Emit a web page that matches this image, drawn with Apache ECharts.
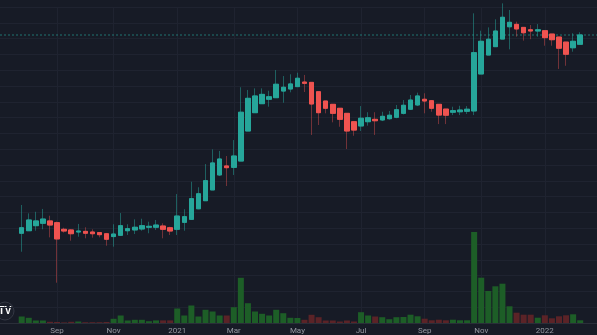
<!DOCTYPE html>
<html>
<head>
<meta charset="utf-8">
<script src="https://cdn.jsdelivr.net/npm/echarts@6/dist/echarts.min.js"></script>
<style>
html, body { margin: 0; padding: 0; background: #171b26; }
#main { width: 597px; height: 335px; }
</style>
</head>
<body>
<div id="main"></div>
<script>
// weekly bars, Monday of each week
var dates = [
    '2020-08-03','2020-08-10','2020-08-17','2020-08-24','2020-08-31','2020-09-07','2020-09-14','2020-09-21','2020-09-28','2020-10-05',
    '2020-10-12','2020-10-19','2020-10-26','2020-11-02','2020-11-09','2020-11-16','2020-11-23','2020-11-30','2020-12-07','2020-12-14',
    '2020-12-21','2020-12-28','2021-01-04','2021-01-11','2021-01-18','2021-01-25','2021-02-01','2021-02-08','2021-02-15','2021-02-22',
    '2021-03-01','2021-03-08','2021-03-15','2021-03-22','2021-03-29','2021-04-05','2021-04-12','2021-04-19','2021-04-26','2021-05-03',
    '2021-05-10','2021-05-17','2021-05-24','2021-05-31','2021-06-07','2021-06-14','2021-06-21','2021-06-28','2021-07-05','2021-07-12',
    '2021-07-19','2021-07-26','2021-08-02','2021-08-09','2021-08-16','2021-08-23','2021-08-30','2021-09-06','2021-09-13','2021-09-20',
    '2021-09-27','2021-10-04','2021-10-11','2021-10-18','2021-10-25','2021-11-01','2021-11-08','2021-11-15','2021-11-22','2021-11-29',
    '2021-12-06','2021-12-13','2021-12-20','2021-12-27','2022-01-03','2022-01-10','2022-01-17','2022-01-24','2022-01-31','2022-02-07'
];

var opens = [
    56.8, 58.4, 61.6, 63.1, 64.6, 63.5, 59.3, 58.9, 57.6, 58.0,
    57.6, 57.2, 56.5, 54.7, 55.5, 58.4, 58.9, 59.5, 60.6, 60.6,
    61.4, 60.3, 59.3, 63.7, 65.6, 72.3, 77.4, 84.2, 93.7, 99.4,
    98.5, 102.5, 121.5, 133.1, 138.8, 141.6, 142.6, 146.8, 148.1, 149.6,
    152.5, 152.3, 146.4, 140.5, 138.4, 135.9, 132.7, 127.4, 124.7, 127.4,
    128.9, 128.5, 129.3, 130.2, 132.7, 135.3, 138.0, 141.6, 140.7, 138.4,
    135.4, 133.4, 133.7, 134.0, 134.2, 157.6, 169.6, 174.9, 179.7, 187.5,
    189.0, 187.1, 185.6, 184.8, 185.0, 182.9, 181.0, 177.8, 174.2, 176.4
];

var closes = [
    60.3, 65.2, 64.6, 65.8, 62.0, 53.2, 58.2, 56.5, 58.2, 56.8,
    56.5, 55.9, 53.0, 56.3, 61.6, 59.7, 60.6, 61.6, 61.2, 62.0,
    59.3, 58.2, 67.7, 67.3, 78.7, 81.8, 90.1, 101.3, 103.8, 98.3,
    105.7, 133.4, 142.2, 143.7, 144.7, 143.2, 151.1, 149.2, 151.3, 154.9,
    151.7, 138.6, 133.1, 135.9, 132.7, 128.9, 121.5, 122.1, 129.6, 129.9,
    128.0, 130.8, 131.5, 135.0, 137.8, 141.1, 143.7, 140.5, 135.9, 131.6,
    131.5, 134.4, 134.8, 135.3, 171.1, 178.3, 179.6, 184.8, 193.5, 190.3,
    186.1, 183.7, 184.8, 185.6, 180.6, 179.3, 173.9, 170.1, 178.3, 182.3
];

var highs = [
    74.7, 69.4, 70.4, 72.2, 67.9, 64.2, 60.3, 59.3, 62.7, 60.6,
    59.3, 57.6, 57.0, 62.5, 69.6, 62.5, 65.6, 66.0, 64.1, 65.2,
    63.1, 60.9, 81.6, 72.0, 89.4, 85.9, 100.6, 109.9, 108.9, 105.7,
    115.8, 149.2, 147.5, 148.5, 148.5, 147.0, 160.1, 156.3, 157.4, 158.4,
    157.0, 152.5, 146.4, 140.5, 138.4, 135.9, 132.7, 127.4, 137.3, 133.4,
    133.4, 133.7, 134.2, 138.0, 141.1, 144.3, 145.8, 145.4, 141.1, 138.4,
    135.4, 136.9, 137.5, 137.3, 196.0, 185.0, 187.1, 192.2, 202.3, 198.1,
    190.7, 187.1, 188.6, 189.2, 185.0, 182.9, 181.0, 177.8, 183.4, 184.0
];

var lows = [
    45.1, 58.2, 58.4, 59.3, 54.2, 25.5, 57.2, 52.1, 54.6, 53.6,
    54.0, 54.2, 48.9, 48.3, 55.1, 55.7, 56.3, 58.4, 56.8, 58.9,
    53.6, 55.7, 55.7, 58.4, 65.2, 72.0, 77.4, 84.2, 93.0, 86.7,
    93.7, 102.5, 121.5, 133.1, 138.8, 136.9, 142.6, 139.4, 146.0, 149.6,
    146.2, 119.0, 125.3, 132.7, 127.0, 124.2, 110.1, 118.5, 121.5, 124.9,
    119.0, 127.8, 128.7, 129.6, 132.0, 134.8, 137.3, 132.7, 133.7, 125.9,
    125.9, 131.6, 131.6, 132.3, 131.6, 157.6, 169.6, 174.9, 179.7, 173.2,
    181.2, 178.7, 179.6, 181.2, 175.5, 175.5, 160.8, 162.8, 171.7, 176.4
];

var volumes = [
    6.5, 5.2, 2.5, 2.5, 1.2, 1.0, 0.6, 1.2, 1.5, 0.8,
    0.8, 0.8, 1.0, 4.2, 7.5, 2.5, 3.2, 3.2, 1.8, 2.6,
    2.6, 2.6, 14.5, 7.5, 17.5, 6.5, 13.2, 11.5, 7.5, 7.5,
    15.8, 45.2, 19.8, 11.5, 9.2, 7.5, 13.2, 9.8, 5.2, 5.0,
    3.2, 8.2, 5.8, 2.5, 2.5, 1.5, 2.5, 1.5, 10.8, 7.5,
    6.5, 5.8, 3.8, 5.8, 6.0, 8.3, 6.7, 4.3, 2.7, 3.3,
    2.7, 3.3, 2.7, 2.7, 91.0, 45.3, 32.0, 36.7, 39.3, 16.7,
    10.3, 8.3, 8.3, 5.3, 7.7, 4.7, 6.7, 7.7, 8.7, 2.7
];

var monthNames = ['Jan','Feb','Mar','Apr','May','Jun','Jul','Aug','Sep','Oct','Nov','Dec'];

var upColor = '#26a69a';
var downColor = '#ef5350';
var wickUp = 'rgba(38,166,154,0.5)';
var wickDown = 'rgba(239,83,80,0.42)';
var volUp = '#1d5e27';
var volDown = '#5b2327';
var gridColor = '#1f2330';

var myChart = echarts.init(document.getElementById('main'));

// first bar of every second month (Jan, Mar, May...) gets a label + vertical grid line
var isMonthStart = function (idx, value) {
    var m = Number(value.slice(5, 7));
    return Number(value.slice(8, 10)) <= 7 && m % 2 === 1;
};
var monthLabel = function (value) {
    var m = Number(value.slice(5, 7));
    return m === 1 ? value.slice(0, 4) : monthNames[m - 1];
};

var wickData = dates.map(function (d, i) {
    return [opens[i], closes[i], lows[i], highs[i]];
});
var bodyData = dates.map(function (d, i) {
    return [opens[i], closes[i], Math.min(opens[i], closes[i]), Math.max(opens[i], closes[i])];
});
var volData = volumes.map(function (v, i) {
    return { value: v, itemStyle: { color: closes[i] >= opens[i] ? volUp : volDown } };
});
var lastClose = closes[closes.length - 1];

var option = {
    backgroundColor: '#171b26',
    animation: false,
    grid: [
        { left: 0, right: 0, top: 7, bottom: 12 },
        { left: 21.7, right: 16.8, top: 7, bottom: 12 }
    ],
    xAxis: [
        {
            gridIndex: 0, type: 'value', min: 0, max: 1,
            axisLine: { show: true, lineStyle: { color: '#2a2e39' } },
            axisTick: { show: false }, axisLabel: { show: false }, splitLine: { show: false }
        },
        {
            gridIndex: 1, type: 'category', data: dates, boundaryGap: false,
            axisLine: { show: false }, axisTick: { show: false },
            axisLabel: {
                interval: isMonthStart, formatter: monthLabel,
                color: '#9598a1', fontSize: 8, fontFamily: 'Roboto', margin: 4
            },
            splitLine: { show: true, interval: isMonthStart, lineStyle: { color: gridColor } }
        }
    ],
    yAxis: [
        {
            gridIndex: 0, type: 'value', min: 0, max: 200, interval: 10,
            axisLine: { show: false }, axisTick: { show: false }, axisLabel: { show: false },
            splitLine: { show: true, lineStyle: { color: gridColor } }
        },
        { gridIndex: 1, type: 'value', min: 0, max: 200, show: false, splitLine: { show: false } },
        { gridIndex: 1, type: 'value', min: 0, max: 316, show: false, splitLine: { show: false } }
    ],
    graphic: [
        { type: 'circle', shape: { cx: 5, cy: 311, r: 9 }, style: { fill: '#1b1f2a', stroke: '#343844', lineWidth: 1 } },
        { type: 'text', x: 5, y: 311.5, style: { text: 'TV', fill: '#ffffff', font: 'bold 10px sans-serif', align: 'center', verticalAlign: 'middle' } }
    ],
    series: [
        {
            name: 'volume', type: 'bar', xAxisIndex: 1, yAxisIndex: 2,
            data: volData, barWidth: 6, clip: false, z: 1
        },
        {
            name: 'last', type: 'line', xAxisIndex: 0, yAxisIndex: 0,
            data: [[0, lastClose], [1, lastClose]], symbol: 'none', silent: true, z: 1,
            lineStyle: { color: 'rgba(38,166,154,0.32)', width: 2, type: [2, 2] }
        },
        {
            name: 'wick', type: 'candlestick', xAxisIndex: 1, yAxisIndex: 1,
            data: wickData, barWidth: 5, clip: false, z: 2,
            itemStyle: { color: wickUp, color0: wickDown, borderColor: wickUp, borderColor0: wickDown, borderWidth: 1 }
        },
        {
            name: 'body', type: 'candlestick', xAxisIndex: 1, yAxisIndex: 1,
            data: bodyData, barWidth: 5, clip: false, z: 3,
            itemStyle: { color: upColor, color0: downColor, borderColor: upColor, borderColor0: downColor, borderWidth: 1 }
        }
    ]
};

myChart.setOption(option);
</script>
</body>
</html>
